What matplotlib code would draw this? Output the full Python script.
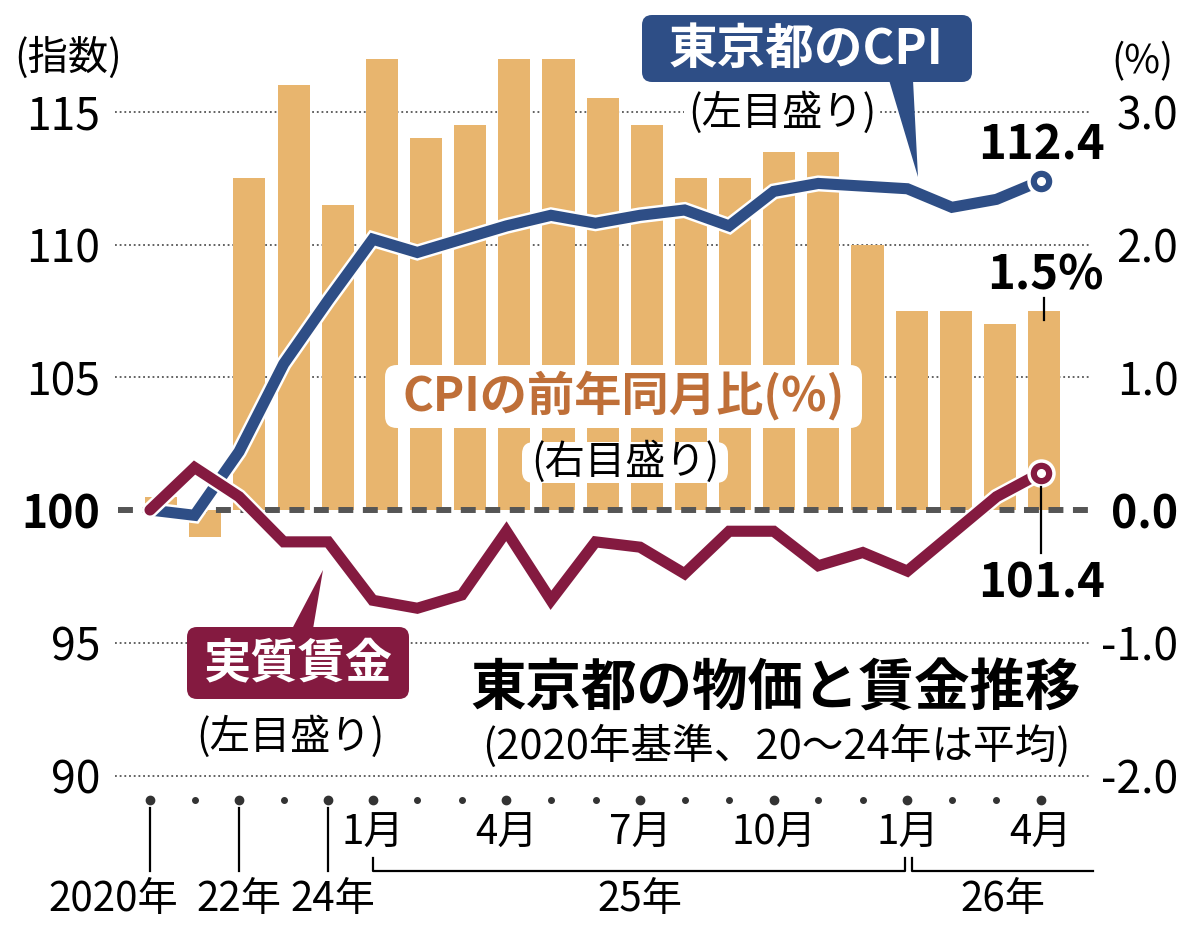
import matplotlib
matplotlib.use('Agg')
import matplotlib.pyplot as plt
import matplotlib.patches as mpatches
import matplotlib.patheffects as pe
from matplotlib.lines import Line2D
from matplotlib.transforms import Affine2D, blended_transform_factory

plt.rcParams['font.family'] = ['Noto Sans CJK JP', 'DejaVu Sans']

# ---------------- data ----------------
periods = ['2020', '2021', '2022', '2023', '2024',
           '2025-01', '2025-02', '2025-03', '2025-04', '2025-05', '2025-06',
           '2025-07', '2025-08', '2025-09', '2025-10', '2025-11', '2025-12',
           '2026-01', '2026-02', '2026-03', '2026-04']
cpi_index = [100.0, 99.8, 102.2, 105.5, 107.9,
             110.2, 109.7, 110.2, 110.7, 111.1, 110.8,
             111.1, 111.3, 110.7, 112.0, 112.3, 112.2,
             112.1, 111.4, 111.7, 112.4]
real_wage = [100.0, 101.6, 100.5, 98.8, 98.8,
             96.6, 96.3, 96.8, 99.2, 96.6, 98.8,
             98.6, 97.6, 99.2, 99.2, 97.9, 98.4,
             97.7, 99.1, 100.5, 101.4]
cpi_yoy = [0.1, -0.2, 2.5, 3.2, 2.3,
           3.4, 2.8, 2.9, 3.4, 3.4, 3.1,
           2.9, 2.5, 2.5, 2.7, 2.7, 2.0,
           1.5, 1.5, 1.4, 1.5]
left_ticks = [90, 95, 100, 105, 110, 115]
right_ticks = [-2, -1, 0, 1, 2, 3]
right_tick_labels = ['-2.0', '-1.0', '0.0', '1.0', '2.0', '3.0']
month_label_idx = [5, 8, 11, 14, 17, 20]
month_labels = ['1月', '4月', '7月', '10月', '1月', '4月']
year_tick_idx = [0, 2, 4]
year_labels = ['2020年', '22年', '24年']

# ---------------- style ----------------
BLUE = '#2E4E86'
MAROON = '#841A40'
BAR = '#E8B56E'
ORANGE_TXT = '#BF6F38'
GRID = '#555555'

W, H = 1200, 930
fig = plt.figure(figsize=(12, 9.3), dpi=100)
T = Affine2D().scale(1 / W, -1 / H).translate(0, 1) + fig.transFigure  # pixel coords, origin top-left

X0, DX = 150, 44.55     # px of first point, px per step
Y100, DY = 510, 26.55   # px of index 100, px per index point
AX_L, AX_R = 110, 1095

def X(px):
    return (px - X0) / DX

ax = fig.add_axes([AX_L / W, 0, (AX_R - AX_L) / W, 1])
ax.set_xlim(X(AX_L), X(AX_R))
ax.set_ylim(100 - (H - Y100) / DY, 100 + Y100 / DY)
ax2 = ax.twinx()
lo, hi = ax.get_ylim()
ax2.set_ylim((lo - 100) / 5, (hi - 100) / 5)
ax.set_zorder(2)
ax.patch.set_visible(False)
ax2.set_zorder(1)
for a in (ax, ax2):
    for s in a.spines.values():
        s.set_visible(False)
    a.set_xticks([])

xs = list(range(len(periods)))

# gridlines (right scale, below bars)
ax2.hlines([t for t in right_ticks if t != 0], X(115), X(1090), colors=GRID,
           linewidth=1.3, linestyles=(0, (1, 1.6)), zorder=1)
# bars
bar_x = [i * 0.991 + 0.25 for i in xs]
ax2.bar(bar_x, cpi_yoy, width=0.72, color=BAR, zorder=2, linewidth=0)

# base line 100
ax.hlines(100, X(118), X(1097), colors='#555555', linewidth=4.3,
          linestyles=(0, (2.5, 1.6)), zorder=2)

# lines
lw = 8.0
for vals, col in ((cpi_index, BLUE), (real_wage, MAROON)):
    ax.plot(xs, vals, color=col, lw=lw, solid_joinstyle='miter', solid_capstyle='round',
            zorder=3, path_effects=[pe.Stroke(linewidth=lw + 3.5, foreground='white'), pe.Normal()])
    ax.plot(xs[-1], vals[-1], 'o', ms=18, mfc=col, mec='white', mew=2.5, zorder=4)
    ax.plot(xs[-1], vals[-1], 'o', ms=5.5, mfc='white', mec='white', zorder=5)

# y tick labels
ax.set_yticks(left_ticks)
ax.set_yticklabels([str(v) for v in left_ticks])
ax.tick_params(axis='y', length=0, pad=7, labelsize=32)
for lab in ax.get_yticklabels():
    if lab.get_text() == '100':
        lab.set_fontweight('bold')
ax2.set_yticks(right_ticks)
ax2.set_yticklabels(right_tick_labels)
ax2.tick_params(axis='y', length=0, pad=60, labelsize=32)
for lab in ax2.get_yticklabels():
    lab.set_horizontalalignment('right')
    if lab.get_text() == '0.0':
        lab.set_fontweight('bold')

# ---------------- x axis (dots, labels, brackets) ----------------
BT = blended_transform_factory(ax.transData, T)
big = set(year_tick_idx + month_label_idx)
for i in xs:
    ax.plot(i, 800, 'o', ms=6 if i in big else 4, color='#333333', transform=BT,
            clip_on=False, zorder=5)
for i in year_tick_idx:
    ax.plot([i, i], [808, 871], color='black', lw=1.6, transform=BT, clip_on=False)
for i, s in zip(month_label_idx, month_labels):
    ax.text(i, 833, s, transform=BT, ha='center', va='center', fontsize=29)
year_x = [X(113), year_tick_idx[1], year_tick_idx[2] + 0.1]
for xv, s in zip(year_x, year_labels):
    ax.text(xv, 899, s, transform=BT, ha='center', va='center', fontsize=29)

def pxline(xp, yp, **kw):
    fig.add_artist(Line2D(xp, yp, transform=T, **kw))

pxline([373, 373, 905, 905], [858, 871, 871, 858], color='black', lw=1.6)
pxline([912, 912, 1093], [858, 871, 871], color='black', lw=1.6)
fig.text(640, 899, '25年', transform=T, ha='center', va='center', fontsize=29)
fig.text(1003, 899, '26年', transform=T, ha='center', va='center', fontsize=29)

# axis unit labels
fig.text(68, 58, '(指数)', transform=T, ha='center', va='center', fontsize=29)
fig.text(1142, 62, '(%)', transform=T, ha='center', va='center', fontsize=28)

# ---------------- callouts ----------------
def rbox(x0, y0, x1, y1, color, r=10, z=6):
    p = mpatches.FancyBboxPatch((x0, y0), x1 - x0, y1 - y0,
                                boxstyle=f'round,pad=0,rounding_size={r}',
                                transform=T, facecolor=color, edgecolor='none', zorder=z)
    fig.add_artist(p)

def tail(pts, color, z=6):
    fig.add_artist(mpatches.Polygon(pts, closed=True, transform=T, facecolor=color,
                                    edgecolor='none', zorder=z))

# Tokyo CPI
rbox(642, 15, 972, 82, BLUE)
tail([(889, 80), (913, 80), (918, 177)], BLUE)
fig.text(806, 49, '東京都のCPI', transform=T, ha='center', va='center', fontsize=35,
         fontweight='bold', color='white', zorder=7)
fig.text(782, 113, '(左目盛り)', transform=T, ha='center', va='center', fontsize=29,
         zorder=7, bbox=dict(boxstyle='square,pad=0.1', fc='white', ec='none'))

# real wage
rbox(187, 627, 409, 699, MAROON)
tail([(292, 629), (313, 629), (323, 570)], MAROON)
fig.text(298, 663, '実質賃金', transform=T, ha='center', va='center', fontsize=34,
         fontweight='bold', color='white', zorder=7)
fig.text(290, 737, '(左目盛り)', transform=T, ha='center', va='center', fontsize=29, zorder=7)

# CPI yoy label
rbox(385, 365, 862, 428, 'white', r=12)
fig.text(624, 396, 'CPIの前年同月比(%)', transform=T, ha='center', va='center', fontsize=34,
         fontweight='bold', color=ORANGE_TXT, zorder=7)
rbox(522, 442, 728, 483, 'white', r=12)
fig.text(625, 462, '(右目盛り)', transform=T, ha='center', va='center', fontsize=29, zorder=7)

# value labels
fig.text(1042, 145, '112.4', transform=T, ha='center', va='center', fontsize=34,
         fontweight='bold', zorder=7)
fig.text(1045, 275, '1.5%', transform=T, ha='center', va='center', fontsize=34,
         fontweight='bold', zorder=7)
pxline([1044, 1044], [298, 320], color='black', lw=1.6, zorder=7)
fig.text(1042, 583, '101.4', transform=T, ha='center', va='center', fontsize=34,
         fontweight='bold', zorder=7)
pxline([1041, 1041], [487, 553], color='black', lw=1.6, zorder=7)

# title
fig.text(776, 690, '東京都の物価と賃金推移', transform=T, ha='center', va='center',
         fontsize=40, fontweight='bold', zorder=7)
fig.text(776, 746, '(2020年基準、20～24年は平均)', transform=T, ha='center', va='center',
         fontsize=30, zorder=7)

fig.savefig('out.png', dpi=100)
